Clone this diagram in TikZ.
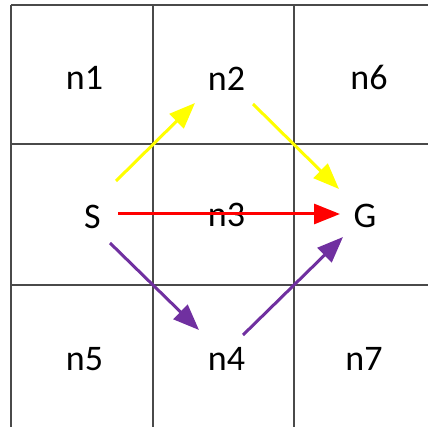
\documentclass[tikz,border=0pt]{standalone}
\usepackage{fontspec}
\setmainfont{Carlito}
\usetikzlibrary{arrows.meta}
\definecolor{gridc}{HTML}{4A4A4A}
\definecolor{yel}{HTML}{FFFF00}
\definecolor{redc}{HTML}{FF0000}
\definecolor{pur}{HTML}{7030A0}
\begin{document}
\begin{tikzpicture}[x=1pt,y=-1pt,
  gridline/.style={draw=gridc,line width=2pt},
  lbl/.style={anchor=base,inner sep=0pt,font=\fontsize{36}{40}\selectfont},
  arr/.style={line width=3pt,-{Triangle[length=26pt,width=20pt]}}]
\useasboundingbox (0,0) rectangle (428,427);
% grid
\draw[gridline] (11,5) -- (428,5);
\draw[gridline] (11,144) -- (428,144);
\draw[gridline] (11,285) -- (428,285);
\draw[gridline] (11,5) -- (11,427);
\draw[gridline] (153,5) -- (153,427);
\draw[gridline] (294,5) -- (294,427);
% labels
\node[lbl] (n1) at (84.5,90) {n1};
\node[lbl] (n2) at (226.5,91) {n2};
\node[lbl] (n6) at (369,90) {n6};
\node[lbl] (S) at (92.5,229) {S};
\node[lbl] (n3) at (226.5,227) {n3};
\node[lbl] (G) at (365,228) {G};
\node[lbl] (n5) at (84.5,370) {n5};
\node[lbl] (n4) at (226.5,370) {n4};
\node[lbl] (n7) at (364,370) {n7};
% arrow endpoints
\coordinate (y1s) at (116,181);
\coordinate (y1e) at (195,103);
\coordinate (y2s) at (253,104);
\coordinate (y2e) at (339,189);
\coordinate (rs) at (118,214);
\coordinate (re) at (340,214);
\coordinate (p1s) at (110,243);
\coordinate (p1e) at (199,330);
\coordinate (p2s) at (243,335);
\coordinate (p2e) at (343,237);
% arrows
\draw[arr,yel] (y1s) -- (y1e);
\draw[arr,yel] (y2s) -- (y2e);
\draw[arr,pur] (p1s) -- (p1e);
\draw[arr,pur] (p2s) -- (p2e);
\draw[arr,redc] (rs) -- (re);
\end{tikzpicture}
\end{document}
